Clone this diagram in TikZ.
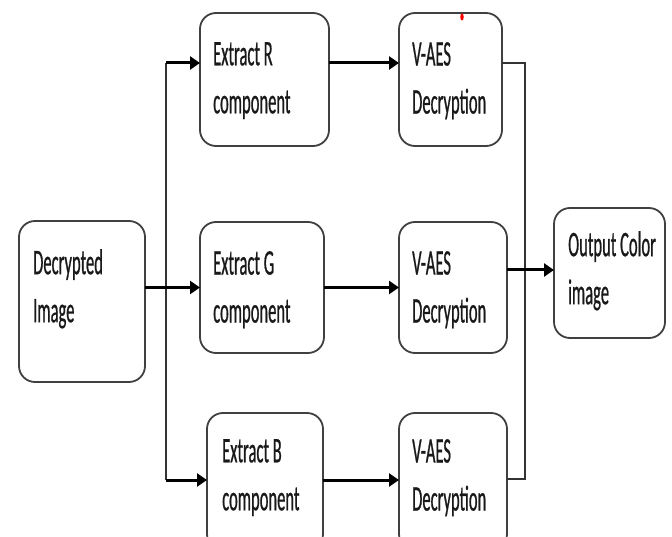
\documentclass[tikz,border=0pt]{standalone}
\usepackage{fontspec}
\setmainfont{Carlito}[FakeStretch=0.46,FakeBold=0.6]
\usetikzlibrary{arrows.meta,calc,shapes.geometric}
\begin{document}
\begin{tikzpicture}[x=1pt,y=-1pt,
  box/.style={draw=black!75,line width=1.8pt,rounded corners=16pt,inner sep=0pt,outer sep=0pt},
  lbl/.style={anchor=north west,inner sep=0pt,align=left,text=black!90,font=\fontsize{36}{48}\selectfont},
  arr/.style={line width=3pt,-{Triangle[length=10pt,width=13pt]}},
  thinline/.style={line width=1.6pt,draw=black!80}]
\useasboundingbox (0,0) rectangle (672,537);
\clip (0,0) rectangle (672,537);
% boxes
\node[box,minimum width=126,minimum height=161] (dec) at (82,301.5) {};
\node[box,minimum width=129,minimum height=133] (exr) at (264.5,79.5) {};
\node[box,minimum width=124,minimum height=131] (exg) at (262,287.5) {};
\node[box,minimum width=116,minimum height=137] (exb) at (265,481.5) {};
\node[box,minimum width=103,minimum height=133] (vr) at (450.5,79.5) {};
\node[box,minimum width=108,minimum height=131] (vg) at (453,287.5) {};
\node[box,minimum width=108,minimum height=137] (vb) at (453,481.5) {};
\node[box,minimum width=111,minimum height=130] (out) at (609.5,273) {};
% labels
\node[lbl] (decT) at (33,249) {Decrypted\\Image};
\node[lbl] (exrT) at (213,42) {Extract R\\component};
\node[lbl] (exgT) at (213,251) {Extract G\\component};
\node[lbl] (exbT) at (222,439) {Extract B\\component};
\node[lbl] (vrT) at (412,42) {V-AES\\Decryption};
\node[lbl] (vgT) at (412,251) {V-AES\\Decryption};
\node[lbl] (vbT) at (412,439) {V-AES\\Decryption};
\node[lbl] (outT) at (568,231) {Output Color\\image};
% red mark
\node[fill=red,ellipse,minimum width=3.5pt,minimum height=7pt,inner sep=0pt] (dot) at (462,17) {};
% junctions
\coordinate (jt) at (166,63);
\coordinate (jb) at (166,480);
\coordinate (rt) at (525,63);
\coordinate (rb) at (525,479);
% connectors
\draw[thinline] (jt) -- (jb);
\draw[arr] (dec.east |- exg.west) -- (exg.west);
\draw[arr] (jt) -- (exr.west |- jt);
\draw[arr] (jb) -- (exb.west |- jb);
\draw[arr] (exr.east |- jt) -- (vr.west |- jt);
\draw[arr] (exg.east) -- (vg.west);
\draw[arr] (exb.east |- jb) -- (vb.west |- jb);
\draw[thinline] (vr.east |- rt) -- (rt) -- (rb) -- (vb.east |- rb);
\draw[arr] (vg.east |- 0,270) -- (out.west |- 0,270);
\end{tikzpicture}
\end{document}
